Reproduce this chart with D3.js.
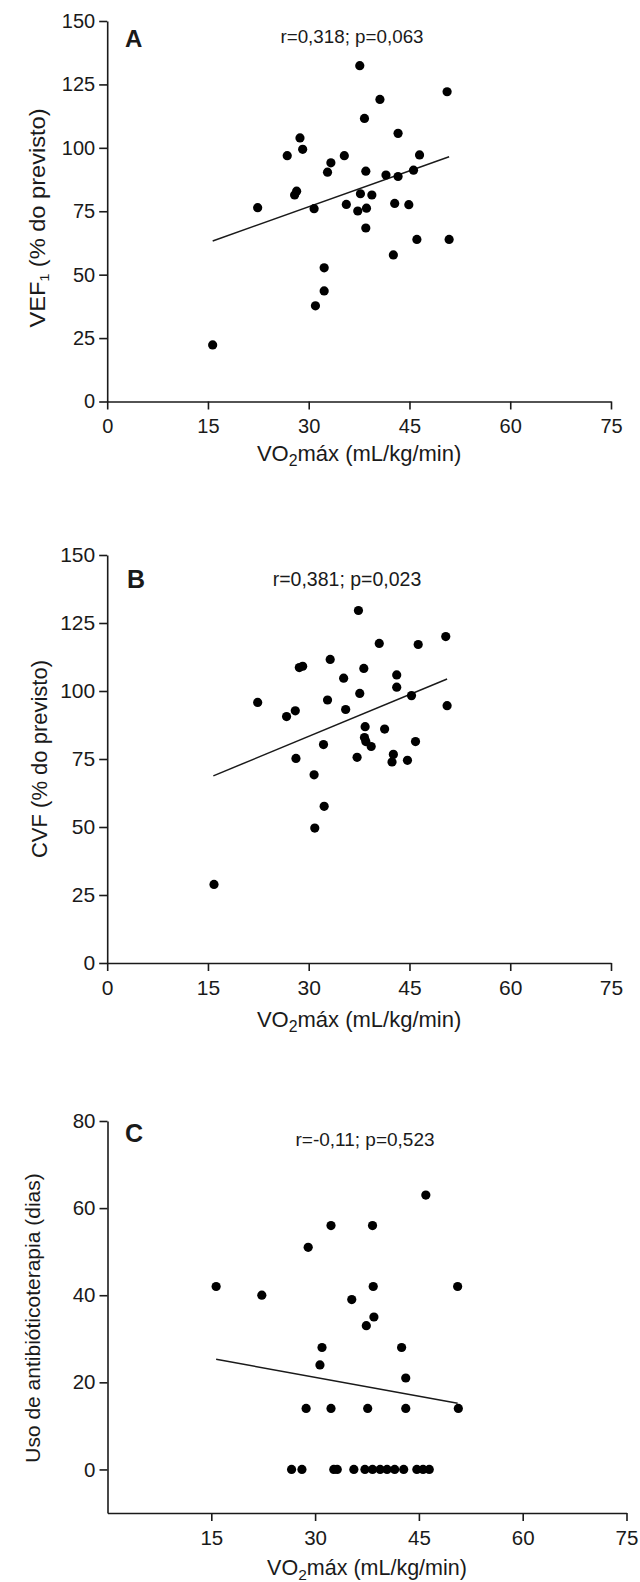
<!DOCTYPE html>
<html>
<head>
<meta charset="utf-8">
<script src="https://cdn.jsdelivr.net/npm/d3@7"></script>
<style>
  body { margin: 0; background: #fff; }
  svg { display: block; }
  text { font-family: "Liberation Sans", Arial, sans-serif; fill: #1a1a1a; }
</style>
</head>
<body>
<svg width="640" height="1582"></svg>
<script>
// ====== Data ======

// A: VEF1 (% do previsto) x VO2max
const vo2A = [15.7, 22.4, 26.8, 28.7, 29.1, 28.2, 27.9, 30.8, 31.0, 32.3, 32.3, 32.8, 33.3, 35.3, 35.6,
              37.6, 37.3, 37.7, 38.3, 38.5, 38.6, 38.5, 39.4, 40.6, 41.5, 42.8, 42.6, 43.3, 43.3, 44.9,
              45.6, 46.1, 46.5, 50.6, 50.9];
const vefA = [22.3, 76.4, 96.9, 103.9, 99.4, 82.9, 81.4, 76.0, 37.7, 52.7, 43.6, 90.4, 94.1, 96.9, 77.7,
              132.4, 75.1, 81.9, 111.6, 90.8, 76.2, 68.4, 81.4, 119.1, 89.3, 78.1, 57.8, 105.7, 88.7, 77.6,
              91.2, 63.9, 97.2, 122.1, 63.9];
const fitA = [[15.7, 63.3], [50.9, 96.5]];
const statsA = "r=0,318; p=0,063";

// B: CVF (% do previsto) x VO2max
const vo2B = [15.9, 22.4, 26.7, 28.0, 28.1, 28.6, 29.1, 30.8, 30.9, 32.2, 32.3, 32.8, 33.2, 35.2, 35.5,
              37.4, 37.2, 37.6, 38.2, 38.4, 38.3, 38.5, 39.3, 40.5, 41.3, 42.4, 42.6, 43.1, 43.1, 44.7,
              45.3, 45.9, 46.3, 50.4, 50.6];
const cvfB = [28.9, 95.8, 90.6, 92.7, 75.2, 108.6, 109.1, 69.2, 49.6, 80.3, 57.6, 96.7, 111.6, 104.7, 93.2,
              129.6, 75.6, 99.1, 108.3, 86.9, 82.9, 81.4, 79.6, 117.5, 86.0, 73.9, 76.7, 105.9, 101.4, 74.5,
              98.3, 81.4, 117.1, 120.0, 94.6];
const fitB = [[15.8, 68.8], [50.6, 104.4]];
const statsB = "r=0,381; p=0,023";

// C: uso de antibioticoterapia (dias) x VO2max
const vo2C = [15.7, 22.3, 29.0, 32.3, 38.3, 38.4, 35.3, 38.5, 37.4, 46.0, 50.6, 31.0, 30.7, 42.5, 43.1,
              28.7, 32.3, 37.6, 43.1, 50.7,
              26.6, 28.1, 32.7, 33.2, 35.6, 37.2, 38.3, 39.4, 40.4, 41.5, 42.8, 44.7, 45.6, 46.5];
const diasC = [42, 40, 51, 56, 56, 42, 39, 35, 33, 63, 42, 28, 24, 28, 21,
               14, 14, 14, 14, 14,
               0, 0, 0, 0, 0, 0, 0, 0, 0, 0, 0, 0, 0, 0];
const fitC = [[15.7, 25.3], [50.6, 15.2]];
const statsC = "r=-0,11; p=0,523";

const xTicksAB = [0, 15, 30, 45, 60, 75];
const xTicksC = [15, 30, 45, 60, 75];
const yTicksAB = [0, 25, 50, 75, 100, 125, 150];
const yTicksC = [0, 20, 40, 60, 80];

const svg = d3.select("svg");
const ink = "#1a1a1a";

//====== One panel ======

function panel(o) {
    const x = d3.scaleLinear().domain([0, 75]).range([o.x0, o.x1]);
    const y = d3.scaleLinear().domain(o.yDomain).range([o.yBottom, o.yTop]);
    const g = svg.append("g");

    const xAxis = g.append("g")
        .attr("transform", `translate(0,${o.yBottom})`)
        .call(d3.axisBottom(x).tickValues(o.xTicks).tickSize(8).tickPadding(9).tickSizeOuter(0));
    const yAxis = g.append("g")
        .attr("transform", `translate(${o.x0},0)`)
        .call(d3.axisLeft(y).tickValues(o.yTicks).tickSize(8).tickPadding(4).tickSizeOuter(0));

    [xAxis, yAxis].forEach(a => {
        a.attr("font-size", o.tickFs).attr("font-family", null).attr("color", ink);
        a.selectAll("path, line").attr("stroke-width", 1.6);
    });

    // regression line
    g.append("path")
        .datum(o.fit)
        .attr("fill", "none")
        .attr("stroke", ink)
        .attr("stroke-width", 1.5)
        .attr("d", d3.line().x(d => x(d[0])).y(d => y(d[1])));

    // points
    g.append("g")
        .selectAll("circle")
        .data(o.xs.map((v, i) => [v, o.ys[i]]))
        .enter().append("circle")
            .attr("cx", d => x(d[0]))
            .attr("cy", d => y(d[1]))
            .attr("r", 4.6)
            .attr("fill", "#000");

    // panel letter + stats
    g.append("text")
        .attr("x", o.letterPos[0]).attr("y", o.letterPos[1])
        .attr("font-size", o.letterFs).attr("font-weight", "bold")
        .text(o.letter);
    g.append("text")
        .attr("x", o.statsPos[0]).attr("y", o.statsPos[1])
        .attr("text-anchor", "middle")
        .attr("font-size", o.statsFs)
        .text(o.stats);

    // x title
    const xt = g.append("text")
        .attr("x", (o.x0 + o.x1) / 2).attr("y", o.xTitleY)
        .attr("text-anchor", "middle")
        .attr("font-size", o.titleFs);
    xt.append("tspan").text("VO");
    xt.append("tspan").attr("font-size", o.titleFs * 0.72).attr("dy", 5).text("2");
    xt.append("tspan").attr("dy", -5).text("máx (mL/kg/min)");

    // y title
    const yt = g.append("text")
        .attr("transform", `translate(${o.yTitlePos[0]},${o.yTitlePos[1]}) rotate(-90) scale(${o.yTitleStretch || 1},1)`)
        .attr("text-anchor", "middle")
        .attr("font-size", o.yTitleFs);
    o.yTitle.forEach(part => {
        const t = yt.append("tspan").text(part.t);
        if (part.sub) t.attr("font-size", o.yTitleFs * 0.6).attr("dy", 4);
        if (part.after) t.attr("dy", -4);
    });
}

panel({
    x0: 107.2, x1: 611, yBottom: 401.5, yTop: 21, yDomain: [0, 150],
    xTicks: xTicksAB, yTicks: yTicksAB, tickFs: 20,
    xs: vo2A, ys: vefA, fit: fitA,
    letter: "A", letterPos: [125, 47], letterFs: 24,
    stats: statsA, statsPos: [352, 43], statsFs: 18.8,
    titleFs: 22, xTitleY: 461,
    yTitle: [{t: "VEF"}, {t: "1", sub: true}, {t: " (% do previsto)", after: true}],
    yTitleFs: 22.5, yTitleStretch: 1.05, yTitlePos: [45, 218]
});

panel({
    x0: 107.2, x1: 611, yBottom: 963, yTop: 555, yDomain: [0, 150],
    xTicks: xTicksAB, yTicks: yTicksAB, tickFs: 21,
    xs: vo2B, ys: cvfB, fit: fitB,
    letter: "B", letterPos: [127, 588], letterFs: 25,
    stats: statsB, statsPos: [347, 586], statsFs: 19.5,
    titleFs: 22, xTitleY: 1027,
    yTitle: [{t: "CVF (% do previsto)"}],
    yTitleFs: 22, yTitlePos: [47, 759]
});

panel({
    x0: 107.5, x1: 626.5, yBottom: 1513, yTop: 1121, yDomain: [-10, 80],
    xTicks: xTicksC, yTicks: yTicksC, tickFs: 20.5,
    xs: vo2C, ys: diasC, fit: fitC,
    letter: "C", letterPos: [125, 1142], letterFs: 25,
    stats: statsC, statsPos: [365, 1146], statsFs: 19,
    titleFs: 21.5, xTitleY: 1575,
    yTitle: [{t: "Uso de antibióticoterapia (dias)"}],
    yTitleFs: 21, yTitlePos: [40, 1318]
});
</script>
</body>
</html>
